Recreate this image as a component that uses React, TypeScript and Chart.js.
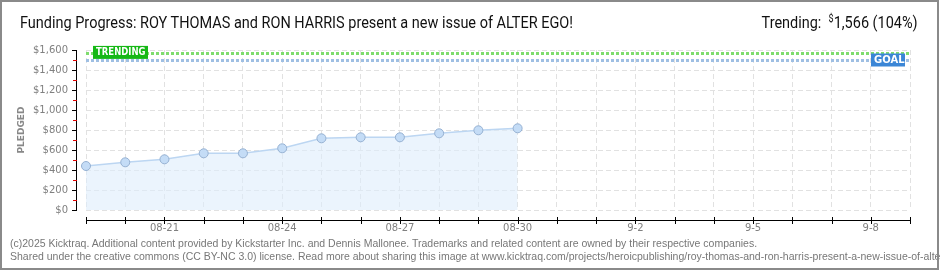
import React, { useEffect, useLayoutEffect, useRef } from 'react';
import { Chart, registerables } from 'chart.js';

Chart.register(...registerables);

const dayLabels = ['08-19', '08-20', '08-21', '08-22', '08-23', '08-24', '08-25', '08-26', '08-27', '08-28', '08-29', '08-30', '08-31', '9-1', '9-2', '9-3', '9-4', '9-5', '9-6', '9-7', '9-8', '9-9'];
const shownLabels = ['08-21', '08-24', '08-27', '08-30', '9-2', '9-5', '9-8'];
const pledged = [440, 477, 507, 567, 567, 617, 717, 727, 727, 767, 797, 817];
const yMax = 1600;
const yStep = 200;
const trendingValue = 1566;
const goalValue = 1500;

const titleText = 'Funding Progress: ROY THOMAS and RON HARRIS present a new issue of ALTER EGO!';
const footer1 = '(c)2025 Kicktraq. Additional content provided by Kickstarter Inc. and Dennis Mallonee. Trademarks and related content are owned by their respective companies.';
const footer2 = 'Shared under the creative commons (CC BY-NC 3.0) license. Read more about sharing this image at www.kicktraq.com/projects/heroicpublishing/roy-thomas-and-ron-harris-present-a-new-issue-of-alter-ego/';

const decorPlugin = {
  id: 'decor',
  beforeDatasetsDraw(chart: any) {
    const { ctx, chartArea, scales } = chart;
    const y = scales.y;
    ctx.save();
    const ty = Math.round(y.getPixelForValue(trendingValue)) + 0.5;
    ctx.setLineDash([3, 2]);
    ctx.lineWidth = 3;
    ctx.strokeStyle = '#7fdc6e';
    ctx.beginPath();
    ctx.moveTo(chartArea.left, ty);
    ctx.lineTo(chartArea.right, ty);
    ctx.stroke();
    const gy = Math.round(y.getPixelForValue(goalValue)) + 0.5;
    ctx.strokeStyle = '#9fbfe3';
    ctx.beginPath();
    ctx.moveTo(chartArea.left, gy);
    ctx.lineTo(chartArea.right, gy);
    ctx.stroke();
    ctx.restore();
  },
  afterDraw(chart: any) {
    const { ctx, chartArea, scales } = chart;
    const x = scales.x;
    const y = scales.y;
    ctx.save();
    const ax = 76.5;
    ctx.strokeStyle = '#000';
    ctx.lineWidth = 1;
    ctx.beginPath();
    ctx.moveTo(ax, y.getPixelForValue(yMax));
    ctx.lineTo(ax, y.getPixelForValue(0));
    ctx.stroke();
    for (let v = 0; v <= yMax; v += yStep / 2) {
      const py = Math.round(y.getPixelForValue(v)) + 0.5;
      const major = v % yStep === 0;
      ctx.strokeStyle = major ? '#000' : '#e00000';
      ctx.beginPath();
      ctx.moveTo(major ? 72 : 73, py);
      ctx.lineTo(77, py);
      ctx.stroke();
    }
    const ay = 220.5;
    ctx.strokeStyle = '#000';
    ctx.beginPath();
    ctx.moveTo(chartArea.left, ay);
    ctx.lineTo(chartArea.right, ay);
    ctx.stroke();
    for (let i = 0; i < dayLabels.length; i++) {
      const px = Math.round(x.getPixelForValue(i)) + 0.5;
      ctx.beginPath();
      ctx.moveTo(px, 217);
      ctx.lineTo(px, 224);
      ctx.stroke();
    }
    const ty = y.getPixelForValue(trendingValue);
    const gy = y.getPixelForValue(goalValue);
    ctx.font = 'bold 10px "DejaVu Sans"';
    ctx.textBaseline = 'middle';
    ctx.fillStyle = '#16b816';
    ctx.fillRect(93, ty - 7.5, 55, 13);
    ctx.fillStyle = '#fff';
    ctx.textAlign = 'left';
    ctx.save();
    ctx.translate(96, ty - 1);
    ctx.scale(0.85, 1);
    ctx.fillText('TRENDING', 0, 0);
    ctx.restore();
    ctx.fillStyle = '#3b86d6';
    ctx.fillRect(chartArea.right - 39, gy - 6.5, 34, 13);
    ctx.fillStyle = '#fff';
    ctx.fillText('GOAL', chartArea.right - 36, gy + 0.5);
    ctx.restore();
  },
};

function FitText(props: { width: number; style: any; children: any; anchor: 'left' | 'right' }) {
  const r = useRef<HTMLDivElement>(null);
  useLayoutEffect(() => {
    const el = r.current;
    if (!el) return;
    el.style.transform = 'none';
    const w = el.getBoundingClientRect().width;
    if (w > 0) el.style.transform = `scaleX(${props.width / w})`;
  });
  return (
    <div
      ref={r}
      style={{ ...props.style, transformOrigin: props.anchor === 'left' ? 'left top' : 'right top', whiteSpace: 'nowrap' }}
    >
      {props.children}
    </div>
  );
}

export default function App() {
  const ref = useRef<HTMLCanvasElement>(null);
  useEffect(() => {
    if (!ref.current) return;
    const chart = new Chart(ref.current, {
      type: 'line',
      data: {
        datasets: [
          {
            data: pledged.map((v, i) => ({ x: i, y: v })),
            fill: 'origin',
            backgroundColor: 'rgba(222,236,251,0.6)',
            borderColor: '#bcd6f2',
            borderWidth: 1.5,
            pointRadius: 4.5,
            pointBackgroundColor: '#c4dcf6',
            pointBorderColor: '#96b1d2',
            pointBorderWidth: 1,
            tension: 0,
            clip: false,
          } as any,
        ],
      },
      options: {
        responsive: false,
        animation: false,
        layout: { padding: { left: 0, right: 30, top: 50, bottom: 35 } },
        plugins: { legend: { display: false }, tooltip: { enabled: false } },
        scales: {
          x: {
            type: 'linear',
            min: 0,
            max: dayLabels.length - 1,
            afterFit: (s: any) => {
              s.height = 25;
            },
            ticks: {
              stepSize: 1,
              autoSkip: false,
              maxRotation: 0,
              padding: 12,
              color: '#808080',
              font: { family: 'DejaVu Sans', size: 10 },
              callback: (v: any) => {
                const l = dayLabels[v as number];
                return shownLabels.includes(l) ? l : '';
              },
            },
            grid: { color: '#e1e1e1', drawTicks: false, lineWidth: 1 },
            border: { display: false, dash: [5, 3] },
          },
          y: {
            min: 0,
            max: yMax,
            afterFit: (s: any) => {
              s.width = 86;
            },
            ticks: {
              stepSize: yStep,
              padding: 18,
              color: '#808080',
              font: { family: 'DejaVu Sans', size: 10 },
              callback: (v: any) => '$' + Number(v).toLocaleString('en-US'),
            },
            title: {
              display: true,
              text: 'PLEDGED',
              color: '#888',
              font: { family: 'DejaVu Sans', size: 9, weight: 'bold' },
              padding: { top: 16, bottom: 0 },
            },
            grid: { color: '#e1e1e1', drawTicks: false, lineWidth: 1 },
            border: { display: false, dash: [5, 3] },
          },
        },
      },
      plugins: [decorPlugin],
    });
    return () => chart.destroy();
  }, []);

  return (
    <div style={{ position: 'absolute', left: 0, top: 0, width: 940, height: 270, background: '#fff', overflow: 'hidden' }}>
      <canvas ref={ref} width={940} height={270} style={{ position: 'absolute', left: 0, top: 0, display: 'block' }} />
      <FitText width={553} anchor="left" style={{ position: 'absolute', left: 20, top: 13, font: '16px Roboto', color: '#111' }}>
        {titleText}
      </FitText>
      <FitText width={156} anchor="right" style={{ position: 'absolute', right: 22, top: 13, font: '16px Roboto', color: '#111' }}>
        Trending:&nbsp;&nbsp;<sup style={{ fontSize: 10, verticalAlign: 6 }}>$</sup>1,566 (104%)
      </FitText>
      <div style={{ position: 'absolute', left: 10, top: 237, font: '10.5px "Liberation Sans"', color: '#777', whiteSpace: 'nowrap', lineHeight: '12.5px' }}>
        {footer1}
        <br />
        {footer2}
      </div>
      <div style={{ position: 'absolute', left: 0, top: 0, width: 939, height: 270, boxSizing: 'border-box', border: '2px solid #8a8a8a', pointerEvents: 'none' }} />
    </div>
  );
}
